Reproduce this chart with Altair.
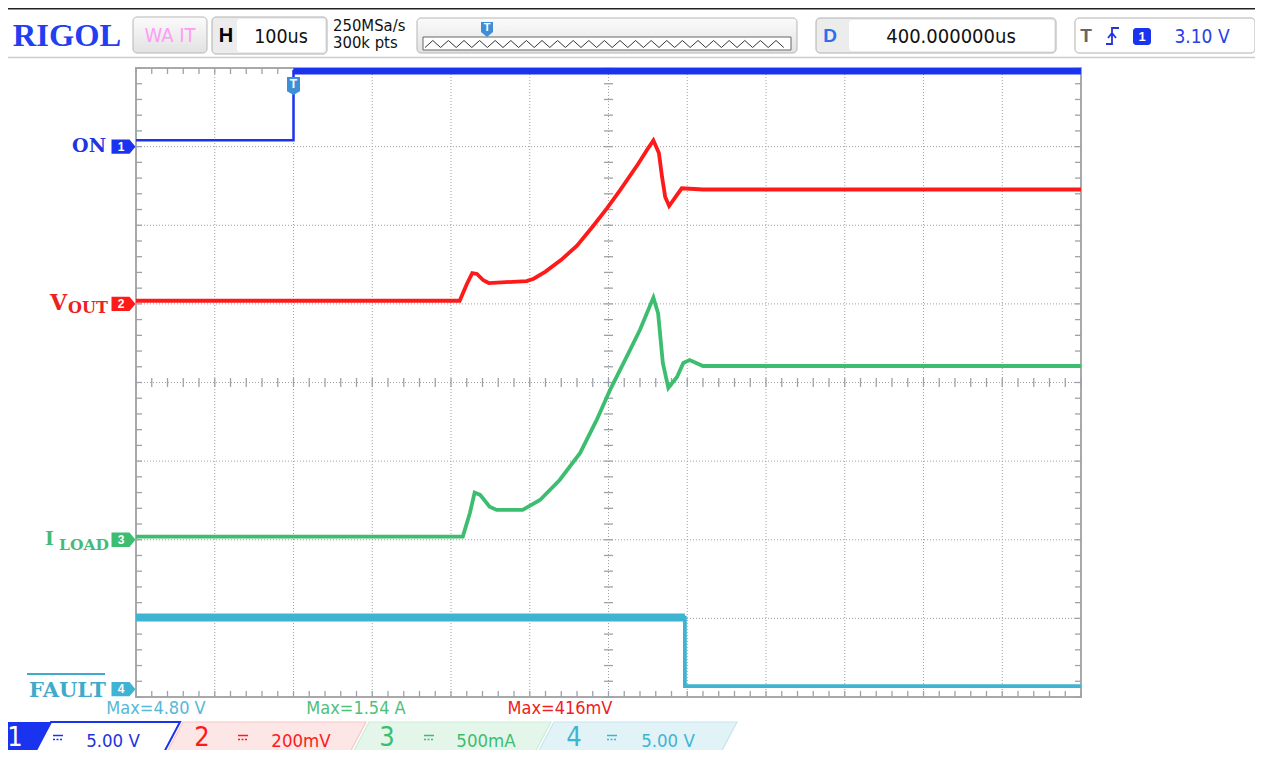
import altair as alt
import pandas as pd

# ---------------- data ----------------
# time in microseconds relative to trigger (100 us/div, delay 400 us)
time_ch1 = [-200, 0, 0, 1000]
on_volts = [0.4, 0.4, 4.8, 4.8]

time_ch2 = [-200, 211, 220, 227, 233, 241, 248, 296, 305, 320, 340, 360, 380, 398,
            415, 438, 449, 457, 464, 468, 472, 477, 487, 493, 520, 1000]
vout_mv = [8, 8, 50, 78, 76, 60, 53, 58, 64, 82, 112, 148, 197, 243,
           290, 357, 392, 416, 384, 323, 272, 249, 277, 294, 291, 291]

time_ch3 = [-200, 215, 224, 230, 237, 249, 258, 291, 313, 338, 364, 385, 402,
            423, 440, 457, 463, 469, 476, 487, 495, 503, 520, 1000]
iload_a = [0.02, 0.02, 0.17, 0.30, 0.285, 0.21, 0.19, 0.19, 0.253, 0.38, 0.552, 0.762, 0.953,
           1.163, 1.335, 1.54, 1.44, 1.124, 0.965, 1.035, 1.124, 1.143, 1.105, 1.105]

time_ch4 = [-200, 497, 497, 1000]
fault_volts = [4.55, 4.55, 0.19, 0.19]

channel_names = ["ON", "VOUT", "ILOAD", "FAULT"]
channel_numbers = ["1", "2", "3", "4"]
units_per_div = [5.0, 200.0, 0.5, 5.0]
offset_div = [3.0, 1.0, -2.0, -3.9]
scale_labels = ["5.00 V", "200mV", "500mA", "5.00 V"]
max_labels = ["Max=4.80 V", "Max=1.54 A", "Max=416mV"]
header_texts = {"timebase": "100us", "rate": "250MSa/s", "points": "300k pts",
                "delay": "400.000000us", "trig_level": "3.10 V"}

BLUE = "#1a33ee"
RED = "#ff1a1a"
GREEN = "#3dbd6f"
CYAN = "#3fb4d2"
colors = [BLUE, RED, GREEN, CYAN]

SANS = "Liberation Sans Narrow, DejaVu Sans Condensed, Liberation Sans, sans-serif"
SERIF = "DejaVu Serif, Liberation Serif, serif"

# ---------------- geometry ----------------
W, H = 945, 629
X0, Y0 = 136, 68  # page position of plot origin

rows = []
series = [(time_ch1, on_volts), (time_ch2, vout_mv), (time_ch3, iload_a), (time_ch4, fault_volts)]
for ci, (ts, vs) in enumerate(series):
    for i, (t, v) in enumerate(zip(ts, vs)):
        rows.append({"t": t, "v": v, "div": v / units_per_div[ci] + offset_div[ci],
                     "ch": channel_names[ci], "i": i})
df = pd.DataFrame(rows)

xs = alt.Scale(domain=[-200, 1000], nice=False, zero=False)
ys = alt.Scale(domain=[-4, 4], nice=False, zero=False)
dummy = alt.Data(values=[{"a": 1}])


def px(x):
    return x - X0


def py(y):
    return y - Y0


def txt(s, x, y, color, size, font=SANS, weight="normal", align="center", baseline="middle"):
    return alt.Chart(dummy).mark_text(text=s, align=align, baseline=baseline, font=font,
                                      fontSize=size, fontWeight=weight, color=color).encode(
        x=alt.value(px(x)), y=alt.value(py(y)))


def box(x1, y1, x2, y2, fill, stroke=None, sw=1, r=0):
    props = dict(fill=fill, cornerRadius=r)
    if stroke:
        props.update(stroke=stroke, strokeWidth=sw)
    return alt.Chart(dummy).mark_rect(**props).encode(
        x=alt.value(px(x1)), x2=alt.value(px(x2)), y=alt.value(py(y1)), y2=alt.value(py(y2)))


def seg(x1, y1, x2, y2, color, sw=1, dash=None):
    props = dict(color=color, strokeWidth=sw)
    if dash:
        props["strokeDash"] = dash
    return alt.Chart(dummy).mark_rule(**props).encode(
        x=alt.value(px(x1)), x2=alt.value(px(x2)), y=alt.value(py(y1)), y2=alt.value(py(y2)))


def shape(pts_list, fill=None, stroke=None, sw=1, closed=True):
    allx = [p[0] for pts in pts_list for p in pts]
    ally = [p[1] for pts in pts_list for p in pts]
    cx = (min(allx) + max(allx)) / 2
    cy = (min(ally) + max(ally)) / 2
    r = 100.0
    parts = []
    for pts in pts_list:
        p = "M" + "L".join(f"{(x - cx) / r:.4f},{(y - cy) / r:.4f}" for x, y in pts)
        if closed:
            p += "Z"
        parts.append(p)
    props = dict(shape=" ".join(parts), size=(2 * r) ** 2, opacity=1,
                 filled=fill is not None, strokeWidth=sw if stroke else 0)
    if fill:
        props["fill"] = fill
    if stroke:
        props["stroke"] = stroke
    else:
        props["stroke"] = fill
        props["strokeWidth"] = 0
    return alt.Chart(dummy).mark_point(**props).encode(x=alt.value(px(cx)), y=alt.value(py(cy)))


layers = []

# ---------------- graticule ----------------
GRID = "#a0a0a0"
TICK = "#9aa3ab"
layers.append(alt.Chart(alt.sequence(-100, 1000, 100)).mark_rule(
    color=GRID, strokeDash=[1, 2], strokeWidth=1).encode(x=alt.X("data:Q", scale=xs, axis=None)))
layers.append(alt.Chart(alt.sequence(-3, 3.5, 1)).mark_rule(
    color=GRID, strokeDash=[1, 2], strokeWidth=1).encode(y=alt.Y("data:Q", scale=ys, axis=None)))
for (ya, yb) in [(0, 6), (H - 6, H), (H / 2 - 4.5, H / 2 + 4.5)]:
    layers.append(alt.Chart(alt.sequence(-200, 1000.5, 20)).mark_rule(
        color=TICK, strokeWidth=1.3).encode(x=alt.X("data:Q", scale=xs, axis=None),
                                             y=alt.value(ya), y2=alt.value(yb)))
for (xa, xb) in [(0, 6), (W - 6, W), (W / 2 - 4.5, W / 2 + 4.5)]:
    layers.append(alt.Chart(alt.sequence(-4, 4.05, 0.2)).mark_rule(
        color=TICK, strokeWidth=1.3).encode(y=alt.Y("data:Q", scale=ys, axis=None),
                                             x=alt.value(xa), x2=alt.value(xb)))

# ---------------- traces ----------------
def trace(ch, color, sw, imin=None, imax=None):
    c = alt.Chart(df).transform_filter(alt.datum.ch == ch)
    if imin is not None:
        c = c.transform_filter(alt.datum.i >= imin)
    if imax is not None:
        c = c.transform_filter(alt.datum.i <= imax)
    return c.mark_line(color=color, strokeWidth=sw, strokeJoin="miter").encode(
        x=alt.X("t:Q", scale=xs, axis=None), y=alt.Y("div:Q", scale=ys, axis=None),
        order="i:Q")

layers.append(trace("FAULT", CYAN, 3.8))
layers.append(trace("FAULT", CYAN, 8, imax=1))
layers.append(trace("ILOAD", GREEN, 3.8))
layers.append(trace("VOUT", RED, 3.8))
layers.append(trace("ON", BLUE, 2.5))
layers.append(trace("ON", BLUE, 6.5, imin=2))

# trigger position marker on the plot
trig = alt.Data(values=[{"t": 0}])
layers.append(alt.Chart(trig).mark_point(
    shape="M-1,-1.4L1,-1.4L1,0.8L0,1.4L-1,0.8Z", size=169, filled=True, opacity=1,
    fill="#3f8fd6", strokeWidth=0).encode(x=alt.X("t:Q", scale=xs, axis=None), y=alt.value(py(86))))
layers.append(alt.Chart(trig).mark_text(text="T", color="white", font="Liberation Sans",
                                        fontWeight="bold", fontSize=12).encode(
    x=alt.X("t:Q", scale=xs, axis=None), y=alt.value(py(84))))

# ---------------- channel ground markers ----------------
mk = pd.DataFrame({"div": offset_div, "num": channel_numbers, "name": channel_names})
cscale = alt.Scale(domain=channel_names, range=colors)
layers.append(alt.Chart(mk).mark_point(
    shape="M-1,-0.6L0.5,-0.6L1,0L0.5,0.6L-1,0.6Z", size=576, filled=True, opacity=1,
    strokeWidth=0).encode(x=alt.value(-12.5), y=alt.Y("div:Q", scale=ys, axis=None),
                          color=alt.Color("name:N", scale=cscale, legend=None)))
layers.append(alt.Chart(mk).mark_text(color="white", font="Liberation Sans", fontSize=12,
                                      fontWeight="bold").encode(
    x=alt.value(-15), y=alt.Y("div:Q", scale=ys, axis=None), text="num:N"))

# left labels
layers.append(txt("ON", 106, 146, "#2233e0", 19, font=SERIF, weight="bold", align="right"))
layers.append(txt("V", 67, 310, "#ee2020", 22, font=SERIF, weight="bold", align="right",
                  baseline="alphabetic"))
layers.append(txt("OUT", 68, 313, "#ee2020", 16, font=SERIF, weight="bold", align="left",
                  baseline="alphabetic"))
layers.append(txt("I", 54, 545, "#44bb77", 19, font=SERIF, weight="bold", align="right",
                  baseline="alphabetic"))
layers.append(txt("LOAD", 59, 550, "#44bb77", 15.5, font=SERIF, weight="bold", align="left",
                  baseline="alphabetic"))
layers.append(txt("FAULT", 106, 697, "#3faacb", 21, font=SERIF, weight="bold", align="right",
                  baseline="alphabetic"))
layers.append(seg(27, 674, 105, 674, "#3faacb", 2))

# max measurements
layers.append(txt(max_labels[0], 156, 709, "#55b8d8", 18))
layers.append(txt(max_labels[1], 356, 709, "#4fc07a", 18))
layers.append(txt(max_labels[2], 560, 709, "#f02020", 18))

# ---------------- header ----------------
layers.append(seg(0, 8.5, 1263, 8.5, "#222222", 2))
layers.append(seg(3, 57.5, 1263, 57.5, "#cccccc", 1.5))
grad = alt.LinearGradient(gradient="linear", x1=0, x2=0, y1=0, y2=1,
                          stops=[alt.GradientStop(color="#fbfbfb", offset=0),
                                 alt.GradientStop(color="#e2e2e2", offset=1)])
layers.append(txt("RIGOL", 67, 36, "#1f3ff0", 32.5, font="Liberation Serif", weight="bold"))
layers.append(box(133, 17, 207, 53, grad, "#b5b5b5", 1, 4))
layers.append(txt("WA IT", 170, 36, "#ff9cf5", 20))
layers.append(box(212, 17, 327, 54, "#ececec", "#b0b0b0", 1, 4))
layers.append(box(237, 19, 325, 52, "white", None, 0, 3))
layers.append(txt("H", 226, 36, "black", 20, font="Liberation Sans", weight="bold"))
layers.append(txt(header_texts["timebase"], 281, 37, "#111111", 19.5))
layers.append(txt(header_texts["rate"], 333, 26, "#111111", 16.5, align="left"))
layers.append(txt(header_texts["points"], 333, 43, "#111111", 16.5, align="left"))
layers.append(box(417, 18, 797, 53, grad, "#b5b5b5", 1, 4))
layers.append(box(423, 37, 791, 50, "white", "#666666", 1, 0))
zig = []
xz = 425
k = 0
while xz <= 789:
    zig.append((xz, 40.5 if k % 2 else 47.5))
    xz += 7.8
    k += 1
layers.append(shape([zig], None, "#333333", 1, closed=False))
layers.append(shape([[(481, 22), (493, 22), (493, 32), (487, 37), (481, 32)]], "#3f8fd6"))
layers.append(txt("T", 487, 28, "white", 11, font="Liberation Sans", weight="bold"))
layers.append(box(816, 18, 1056, 53, "#ececec", "#b0b0b0", 1, 4))
layers.append(box(849, 20, 1054, 51, "white", None, 0, 3))
layers.append(txt("D", 830, 36, "#2a6ff0", 19, font="Liberation Sans", weight="bold"))
layers.append(txt(header_texts["delay"], 951, 37, "#111111", 20))
layers.append(box(1075, 18, 1255, 53, "white", "#b0b0b0", 1, 4))
layers.append(txt("T", 1086, 36, "#666666", 19, font="Liberation Sans", weight="bold"))
layers.append(shape([[(1106, 44), (1112, 44), (1112, 28), (1119, 28)],
                     [(1108, 38), (1112, 33), (1116, 38)]], None, "#2233e0", 1.8, closed=False))
layers.append(box(1133, 28, 1151, 45, "#1a33ee", None, 0, 3))
layers.append(txt("1", 1142, 37, "white", 13, font="Liberation Sans", weight="bold"))
layers.append(txt(header_texts["trig_level"], 1202, 37, "#2a40e6", 19))

# ---------------- bottom channel bar ----------------
TOP, BOT, SL = 722, 758, 19
secs = [(0, 180), (183, 366), (369, 551), (554, 737)]
pale = ["#ffffff", "#fde6e6", "#e4f6ea", "#e2f3f8"]
edge = [BLUE, "#f8c6c6", "#c8eed5", "#c4e6f1"]
num_dx = [15, 19, 18, 20]
dc_dx = [58, 60, 60, 58]
lab_dx = [113, 118, 117, 114]
for ci, (a, b) in enumerate(secs):
    left = a + 51 if ci == 0 else a
    outline = [(left, TOP), (b, TOP), (b - SL, BOT), (left - SL, BOT)]
    layers.append(shape([outline], pale[ci], edge[ci], 2 if ci == 0 else 1.2))
    if ci == 0:
        layers.append(shape([[(-10, TOP), (left, TOP), (left - SL, BOT), (-10, BOT)]], BLUE))
    layers.append(txt(channel_numbers[ci], a + num_dx[ci], 737.5,
                      "white" if ci == 0 else colors[ci], 27))
    cx = a + dc_dx[ci]
    layers.append(seg(cx - 5, 735.5, cx + 5, 735.5, colors[ci], 1.5))
    layers.append(seg(cx - 5, 739.5, cx + 5, 739.5, colors[ci], 1.5, dash=[2, 1.5]))
    layers.append(txt(scale_labels[ci], a + lab_dx[ci], 741, colors[ci] if ci else "#2233e0", 18.5))

chart = alt.layer(*layers).properties(
    width=W, height=H,
    padding={"left": 128, "top": 60, "right": 174, "bottom": 53},
    autosize=alt.AutoSizeParams(type="none"),
    background="white",
).configure_view(stroke="#a9a9a9", strokeWidth=2)

chart.save("out.html", embed_options={"renderer": "svg", "actions": False})
